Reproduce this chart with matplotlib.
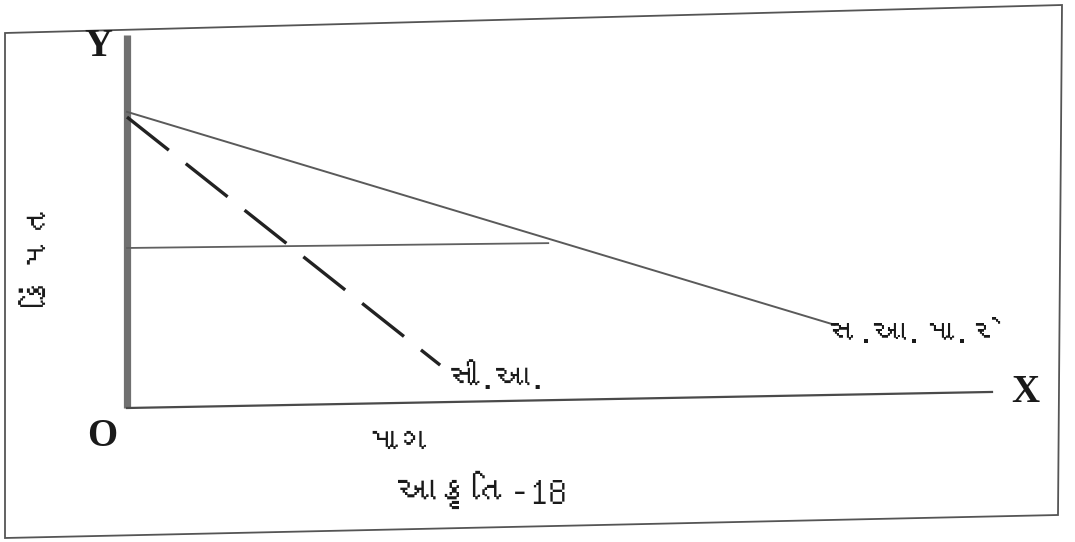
import matplotlib
matplotlib.use("Agg")
import matplotlib.pyplot as plt
from matplotlib import font_manager
from matplotlib.ft2font import FT2Font
from matplotlib.patches import Polygon

# ---------------- data (axis units: origin O, 0..100 on both axes) ----------------
ar_x = [0, 81.8]          # સ.આ.મા.રે  (solid line)
ar_y = [79.4, 22.3]
ca_x = [0, 36.2]          # સી.આ.  (dashed line)
ca_y = [78.0, 11.5]
price_x = [0, 48.7]       # price level (horizontal line)
price_y = [42.9, 44.2]
xaxis_x = [0, 100]
xaxis_y = [0, 4.3]
yaxis_x = [0, 0]
yaxis_y = [0, 100]

label_y = "Y"
label_x = "X"
label_o = "O"
label_price = "કિંમત"
label_demand = "માગ"
label_fig = "આકૃતિ-18"
label_ca = "સી.આ."
label_ar = "સ.આ.મા.રે"

# ---------------- fonts ----------------
def find_family(ch):
    for f in font_manager.fontManager.ttflist:
        try:
            if ord(ch) in FT2Font(f.fname).get_charmap():
                return f.name
        except Exception:
            pass
    return None

guj = find_family("ક")
guj_fam = ([guj] if guj else []) + ["Noto Sans", "DejaVu Sans"]
serif = ["Liberation Serif", "DejaVu Serif"]

W, H = 1075, 542
fig = plt.figure(figsize=(W / 100, H / 100), dpi=100)
fig.patch.set_facecolor("white")

def fx(px):
    return px / W

def fy(py):
    return 1 - py / H

# scanned page frame
frame = Polygon([(fx(5), fy(33)), (fx(1062), fy(5)), (fx(1058), fy(515)), (fx(5), fy(538))],
                closed=True, fill=False, edgecolor="#555555", lw=1.3,
                transform=fig.transFigure)
fig.patches.append(frame)

ax = fig.add_axes([fx(127), fy(408), (992 - 127) / W, (408 - 35) / H])
ax.set_xlim(0, 100)
ax.set_ylim(0, 100)
ax.axis("off")

ax.plot(yaxis_x, yaxis_y, color="#707070", lw=5.2, solid_capstyle="butt", clip_on=False)
ax.plot(xaxis_x, xaxis_y, color="#4a4a4a", lw=1.6, clip_on=False)
ax.plot(ar_x, ar_y, color="#5a5a5a", lw=1.4, clip_on=False)
ax.plot(price_x, price_y, color="#606060", lw=1.3, clip_on=False)
ln, = ax.plot(ca_x, ca_y, color="#222222", lw=2.4, clip_on=False)
ln.set_dashes((16, 6.5))

# axis letters
fig.text(fx(98), fy(47), label_y, family=serif, weight="bold", fontsize=28,
         ha="center", va="center", color="#1a1a1a")
fig.text(fx(102), fy(436), label_o, family=serif, weight="bold", fontsize=28,
         ha="center", va="center", color="#1a1a1a")
fig.text(fx(1025), fy(392), label_x, family=serif, weight="bold", fontsize=28,
         ha="center", va="center", color="#1a1a1a")

# gujarati labels
gkw = dict(family=guj_fam, weight="bold", ha="center", va="center", color="#1a1a1a")
fig.text(fx(40), fy(255), label_price, fontsize=25, rotation=90, **gkw)
fig.text(fx(398), fy(443), label_demand, fontsize=25, **gkw)
fig.text(fx(482), fy(490), label_fig, fontsize=27, **gkw)
fig.text(fx(497), fy(378), label_ca, fontsize=24, **gkw)
fig.text(fx(914), fy(334), label_ar, fontsize=23, **gkw)

fig.savefig("out.png", dpi=100)
